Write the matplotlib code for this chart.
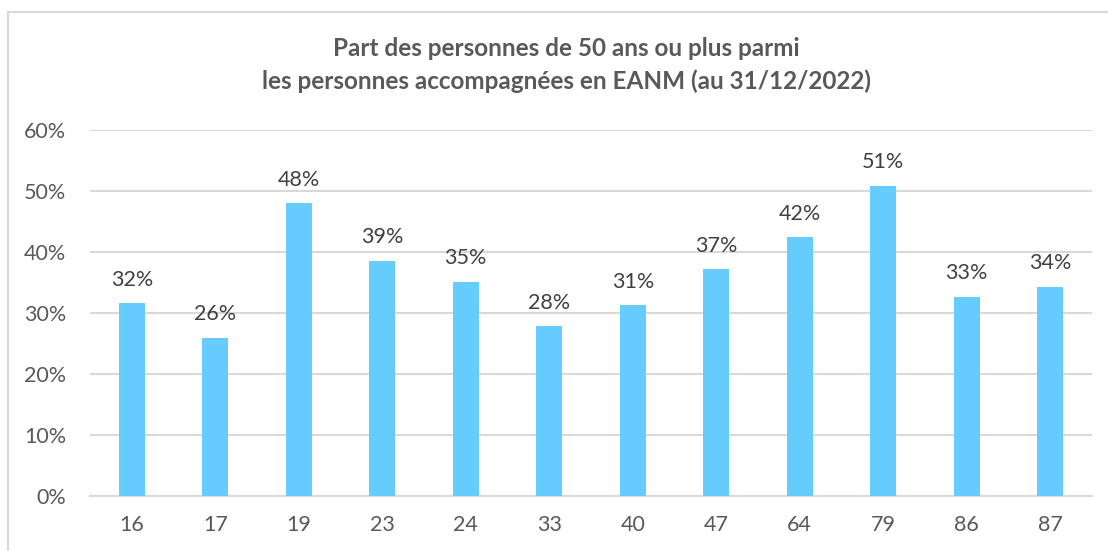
import numpy as np
import matplotlib.pyplot as plt
from matplotlib.lines import Line2D

# departements and share of people aged 50+
departements = ['16', '17', '19', '23', '24', '33', '40', '47', '64', '79', '86', '87']
part_50_plus = [0.316, 0.2595, 0.480, 0.386, 0.351, 0.278, 0.313, 0.372, 0.424, 0.509, 0.327, 0.343]

plt.rcParams['font.family'] = ['Lato', 'DejaVu Sans']

fig = plt.figure(figsize=(11.08, 5.51), dpi=100)
ax = fig.add_axes([90 / 1108, 1 - 496 / 551, (1092 - 90) / 1108, (496 - 130) / 551])

x = np.arange(len(departements))
bars = ax.bar(x, part_50_plus, width=0.31, color='#66CCFF', zorder=3)

for xi, v in zip(x, part_50_plus):
    ax.text(xi, v + 0.022, f"{round(v * 100):d}%", ha='center', va='bottom',
            fontsize=15.5, color='#404040')

ax.set_xlim(-0.5, len(departements) - 0.5)
ax.set_ylim(0, 0.6)
ax.set_yticks(np.arange(0, 0.61, 0.1))
ax.set_yticklabels([f"{int(round(t * 100))}%" for t in np.arange(0, 0.61, 0.1)])
ax.set_xticks(x)
ax.set_xticklabels(departements)
ax.tick_params(axis='both', length=0, labelsize=15.5, labelcolor='#595959')
ax.tick_params(axis='y', pad=17)
ax.tick_params(axis='x', pad=14)
ax.grid(axis='y', color='#D9D9D9', linewidth=1.5, zorder=0)
for s in ['top', 'right', 'left']:
    ax.spines[s].set_visible(False)
ax.spines['bottom'].set_color('#D9D9D9')
ax.spines['bottom'].set_linewidth(1.5)

fig.text(566 / 1108, 1 - 49 / 551, "Part des personnes de 50 ans ou plus parmi",
         ha='center', va='center', fontsize=17.5, fontweight='bold', color='#595959')
fig.text(566 / 1108, 1 - 81 / 551, "les personnes accompagnées en EANM (au 31/12/2022)",
         ha='center', va='center', fontsize=17.5, fontweight='bold', color='#595959')

# chart frame (left and top edges)
fig.add_artist(Line2D([8 / 1108, 8 / 1108], [0, 1 - 12 / 551], transform=fig.transFigure,
                      color='#D9D9D9', linewidth=1.5))
fig.add_artist(Line2D([8 / 1108, 1], [1 - 12 / 551, 1 - 12 / 551], transform=fig.transFigure,
                      color='#D9D9D9', linewidth=1.5))

plt.savefig('out.png', dpi=100)
